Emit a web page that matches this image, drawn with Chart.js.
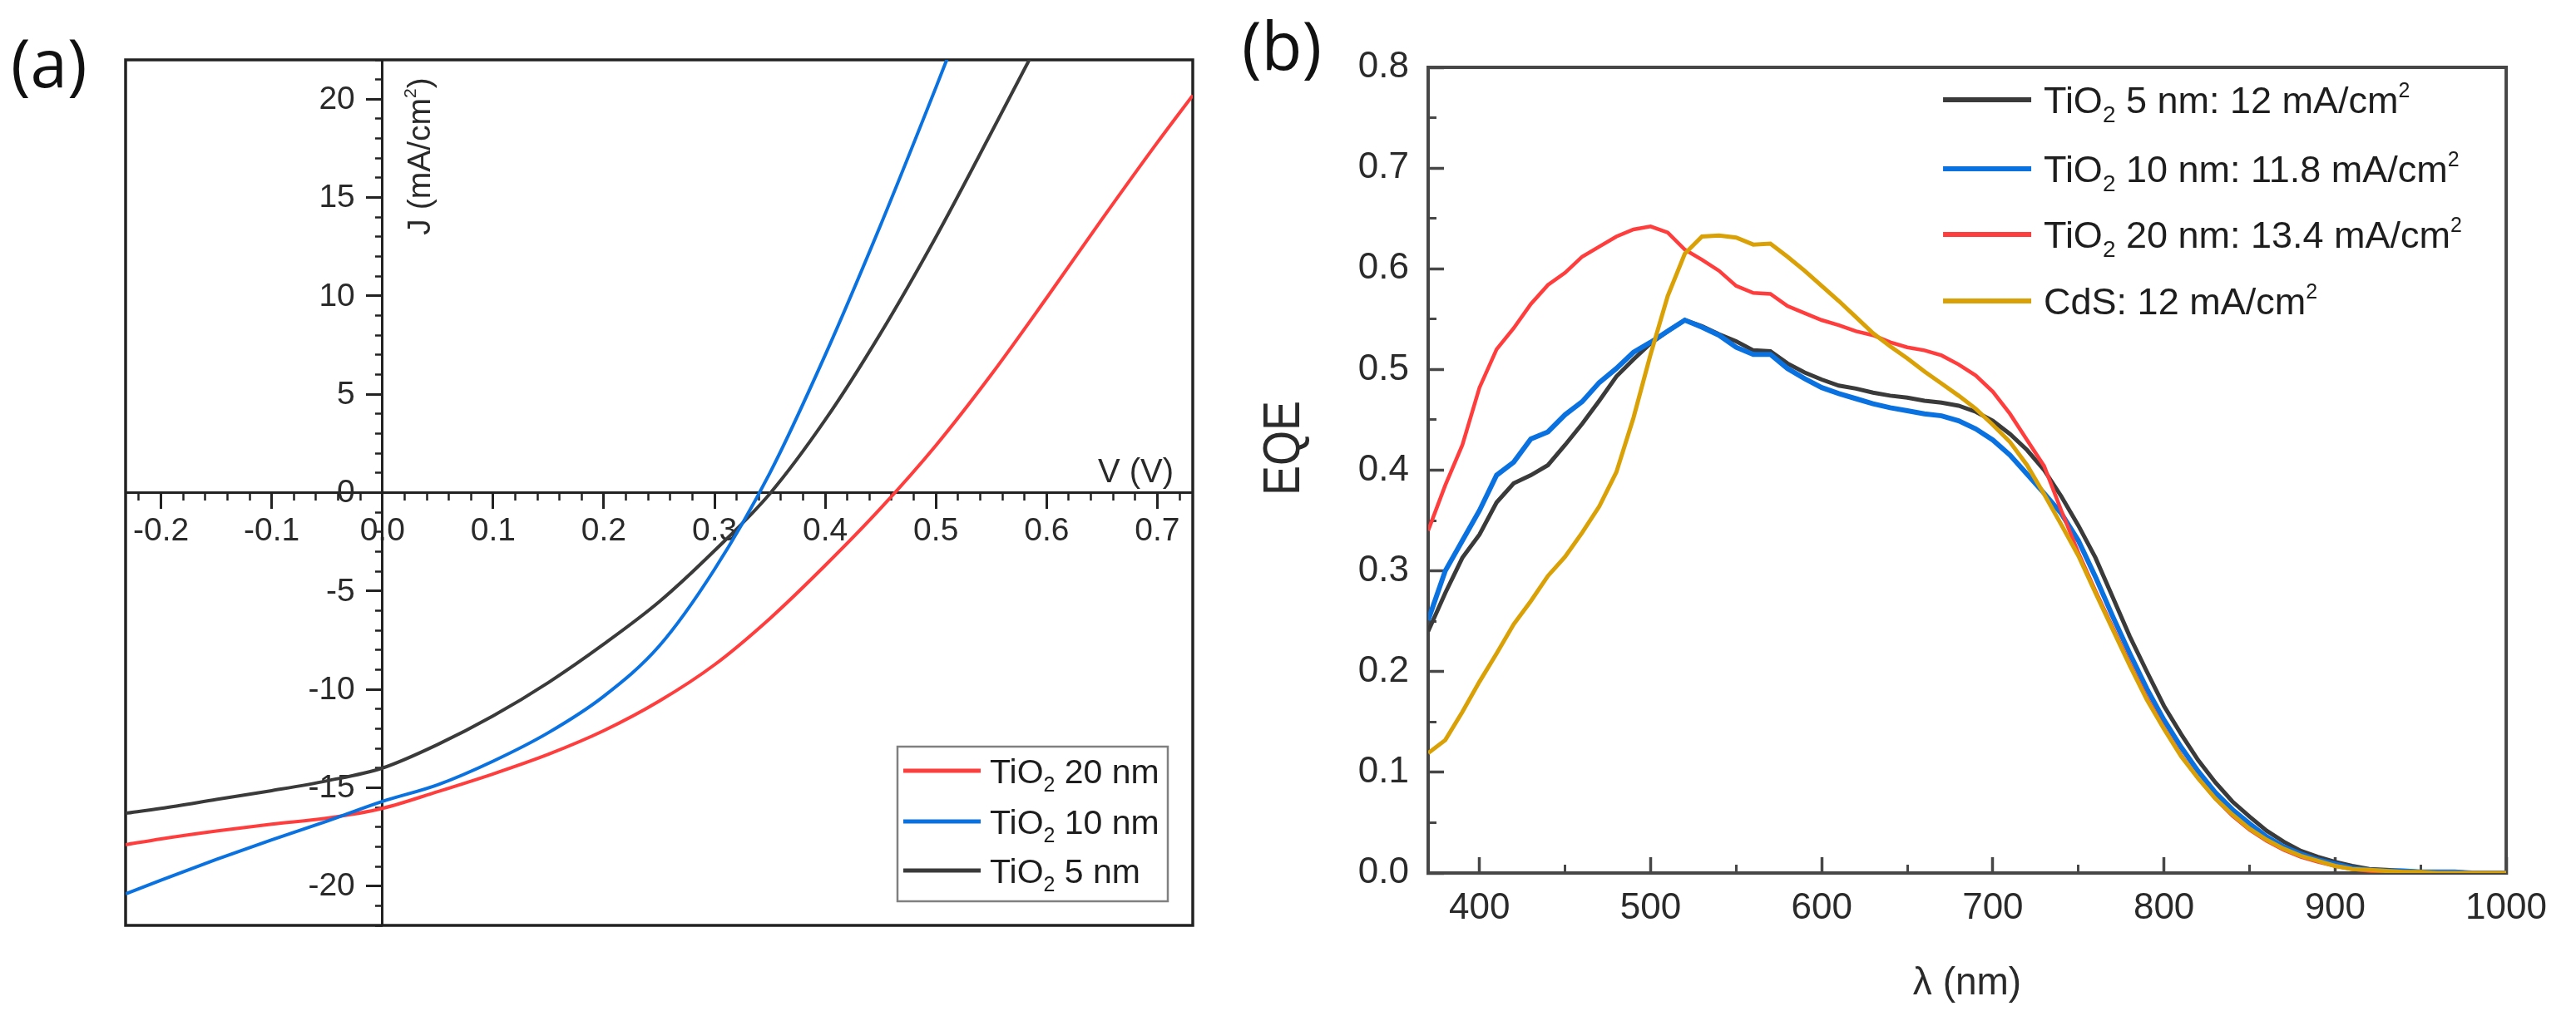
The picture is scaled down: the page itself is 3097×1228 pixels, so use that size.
<!DOCTYPE html>
<html lang="en">
<head>
<meta charset="utf-8">
<title>J–V and EQE of TiO2 / CdS devices</title>
<script src="https://cdn.jsdelivr.net/npm/chart.js@4.4.1/dist/chart.umd.min.js"></script>
<style>
  html, body { margin:0; padding:0; background:#ffffff; }
  #page { position:relative; width:3097px; height:1228px; overflow:hidden; background:#ffffff; }
  #cvA, #cvB { position:absolute; top:0; }
  #cvA { left:0; width:1500px; height:1228px; }
  #cvB { left:1500px; width:1597px; height:1228px; }
  .panel-tag { position:absolute; font-family:"Open Sans", sans-serif; font-size:80px; line-height:80px; color:#111; white-space:nowrap; }
  #tagA { left:13px; top:34px; }
  #tagB { left:1493px; top:13px; }
</style>
</head>
<body>
<div id="page">
  <canvas id="cvA" width="1500" height="1228"></canvas>
  <canvas id="cvB" width="1597" height="1228"></canvas>
  <div class="panel-tag" id="tagA">(a)</div>
  <div class="panel-tag" id="tagB">(b)</div>
</div>
<script>
// ================= Panel (a): J–V curves =================
const voltage    = [-0.232, -0.2, -0.15, -0.1, -0.05, 0, 0.05, 0.1, 0.15, 0.2, 0.25, 0.3, 0.35, 0.4, 0.45, 0.5, 0.55, 0.6, 0.65, 0.7, 0.732];
const jTiO2_20nm = [-17.9, -17.6, -17.2, -16.85, -16.55, -16.05, -15.2, -14.3, -13.3, -12.1, -10.6, -8.75, -6.4, -3.7, -0.8, 2.4, 6.0, 9.9, 13.9, 17.8, 20.2];
const jTiO2_10nm = [-20.4, -19.7, -18.65, -17.65, -16.7, -15.7, -14.85, -13.65, -12.2, -10.35, -7.8, -3.9, 1.0, 7.0, 13.6, 20.6, 27.8, null, null, null, null];
const jTiO2_5nm  = [-16.3, -16.05, -15.6, -15.15, -14.65, -14.0, -12.8, -11.35, -9.65, -7.7, -5.55, -2.95, -0.05, 3.7, 8.1, 13.0, 18.3, 23.7, null, null, null];
const jvSeriesLabels = ['TiO₂ 20 nm', 'TiO₂ 10 nm', 'TiO₂ 5 nm'];
const jvAxisTitles   = ['V (V)', 'J (mA/cm²)'];

// ================= Panel (b): EQE spectra =================
const wavelength = [370, 380, 390, 400, 410, 420, 430, 440, 450, 460, 470, 480, 490, 500, 510, 520, 530, 540, 550, 560,
                    570, 580, 590, 600, 610, 620, 630, 640, 650, 660, 670, 680, 690, 700, 710, 720, 730, 740, 750, 760,
                    770, 780, 790, 800, 810, 820, 830, 840, 850, 860, 870, 880, 890, 900, 910, 920, 930, 940, 950, 960,
                    970, 980, 990, 1000];
const eqeTiO2_5nm = [0.240, 0.278, 0.313, 0.336, 0.368, 0.387, 0.395, 0.405, 0.425,
                     0.446, 0.469, 0.493, 0.510, 0.526, 0.538, 0.549, 0.543, 0.535, 0.528,
                     0.519, 0.518, 0.506, 0.497, 0.490, 0.484, 0.481, 0.477, 0.474, 0.472,
                     0.469, 0.467, 0.464, 0.458, 0.449, 0.436, 0.420, 0.400, 0.374, 0.345,
                     0.313, 0.274, 0.235, 0.200, 0.166, 0.138, 0.112, 0.090, 0.071, 0.056,
                     0.042, 0.031, 0.022, 0.016, 0.011, 0.007, 0.004, 0.003, 0.002, 0.001,
                     0.001, 0.001, 0.000, 0.000, 0.000];
const eqeTiO2_10nm = [0.251, 0.300, 0.330, 0.360, 0.395, 0.408, 0.431, 0.438, 0.455,
                      0.468, 0.487, 0.501, 0.517, 0.527, 0.538, 0.549, 0.542, 0.534, 0.522,
                      0.515, 0.515, 0.501, 0.491, 0.482, 0.476, 0.471, 0.466, 0.462, 0.459,
                      0.456, 0.454, 0.449, 0.441, 0.430, 0.415, 0.396, 0.377, 0.357, 0.330,
                      0.294, 0.255, 0.218, 0.183, 0.152, 0.125, 0.101, 0.080, 0.063, 0.049,
                      0.036, 0.026, 0.019, 0.013, 0.009, 0.005, 0.003, 0.002, 0.002, 0.001,
                      0.001, 0.001, 0.000, 0.000, 0.000];
const eqeTiO2_20nm = [0.340, 0.385, 0.425, 0.482, 0.520, 0.541, 0.565, 0.584, 0.596,
                      0.612, 0.622, 0.632, 0.639, 0.642, 0.636, 0.619, 0.609, 0.598, 0.583,
                      0.576, 0.575, 0.563, 0.556, 0.549, 0.544, 0.538, 0.534, 0.527, 0.522,
                      0.519, 0.514, 0.505, 0.494, 0.478, 0.456, 0.430, 0.404, 0.360, 0.318,
                      0.280, 0.244, 0.208, 0.174, 0.144, 0.117, 0.094, 0.074, 0.057, 0.043,
                      0.032, 0.023, 0.016, 0.011, 0.007, 0.004, 0.002, 0.001, 0.001, 0.000,
                      0.000, 0.000, 0.000, 0.000, 0.000];
const eqeCdS = [0.119, 0.132, 0.160, 0.190, 0.218, 0.247, 0.270, 0.295, 0.314,
                0.338, 0.364, 0.398, 0.452, 0.515, 0.573, 0.615, 0.632, 0.633, 0.631,
                0.624, 0.625, 0.612, 0.598, 0.583, 0.568, 0.552, 0.536, 0.523, 0.511,
                0.498, 0.486, 0.474, 0.461, 0.445, 0.428, 0.405, 0.376, 0.346, 0.315,
                0.278, 0.242, 0.206, 0.172, 0.143, 0.116, 0.094, 0.074, 0.058, 0.044,
                0.033, 0.024, 0.017, 0.012, 0.007, 0.004, 0.003, 0.002, 0.001, 0.001,
                0.000, 0.000, 0.000, 0.000, 0.000];
const eqeSeriesLabels = ['TiO₂ 5 nm: 12 mA/cm²', 'TiO₂ 10 nm: 11.8 mA/cm²', 'TiO₂ 20 nm: 13.4 mA/cm²', 'CdS: 12 mA/cm²'];
const eqeAxisTitles   = ['λ (nm)', 'EQE'];

// ================= styling =================
const FONT = '"Liberation Sans", Arial, Helvetica, sans-serif';
const COLORS = { red: '#ff3d3d', blue: '#0a72e0', black: '#3a3a3a', gold: '#d9a106' };
const AXA = '#222222';
const AXB = '#474747';
const TXT = '#2a2a2a';

function xy(xs, ys) { return xs.map((x, i) => ({ x: x, y: ys[i] })); }

// text with real sub/superscript "2" characters rendered smaller and shifted
function drawRich(ctx, text, x, y, size, align) {
  const segs = [];
  for (const ch of text) {
    let kind = 'n', c = ch;
    if (ch === '₂') { kind = 'sub'; c = '2'; }
    else if (ch === '²') { kind = 'sup'; c = '2'; }
    const last = segs[segs.length - 1];
    if (last && last.kind === kind) last.t += c; else segs.push({ kind: kind, t: c });
  }
  const fontOf = k => (k === 'n' ? size : Math.round(size * (k === 'sub' ? 0.62 : 0.55))) + 'px ' + FONT;
  let total = 0;
  for (const s of segs) { ctx.font = fontOf(s.kind); s.w = ctx.measureText(s.t).width; total += s.w; }
  let cx = align === 'right' ? x - total : (align === 'center' ? x - total / 2 : x);
  ctx.textAlign = 'left';
  ctx.textBaseline = 'alphabetic';
  for (const s of segs) {
    ctx.font = fontOf(s.kind);
    const dy = s.kind === 'sub' ? size * 0.24 : (s.kind === 'sup' ? -size * 0.42 : 0);
    ctx.fillText(s.t, cx, y + dy);
    cx += s.w;
  }
}

function framePlugin(color, width) {
  return {
    id: 'frame',
    beforeDatasetsDraw(chart) {
      const { ctx, chartArea: a } = chart;
      ctx.save();
      ctx.strokeStyle = color;
      ctx.lineWidth = width;
      ctx.strokeRect(a.left, a.top, a.right - a.left, a.bottom - a.top);
      ctx.restore();
    }
  };
}

// ---------- decorations for panel (a) ----------
const decorA = {
  id: 'decorA',
  // y tick labels of the centred J axis: taken from the library's own ticks
  beforeDatasetsDraw(chart) {
    const { ctx, scales } = chart;
    const ys = scales.y;
    const x0 = scales.x.getPixelForValue(0);
    ctx.save();
    ctx.fillStyle = TXT;
    ctx.font = '39px ' + FONT;
    ctx.textAlign = 'right';
    ctx.textBaseline = 'middle';
    ys.ticks.forEach(t => {
      ctx.fillText(String(t.value), x0 - 33, ys.getPixelForValue(t.value) + 1);
    });
    ctx.restore();
  },
  afterDraw(chart) {
    const { ctx, chartArea: a, scales } = chart;
    const x0 = scales.x.getPixelForValue(0);
    const y0 = scales.y.getPixelForValue(0);
    ctx.save();
    ctx.fillStyle = TXT;
    drawRich(ctx, jvAxisTitles[0], a.right - 23, y0 - 13, 40, 'right');
    ctx.save();
    ctx.translate(x0 + 43, a.top + 116);
    ctx.rotate(-Math.PI / 2);
    drawRich(ctx, jvAxisTitles[1], 0, 14, 39, 'center');
    ctx.restore();

    // legend box (lower right)
    const bw = 325, bh = 186;
    const bx0 = a.right - 30 - bw, by0 = a.bottom - 29 - bh;
    ctx.fillStyle = '#ffffff';
    ctx.fillRect(bx0, by0, bw, bh);
    ctx.strokeStyle = '#808080';
    ctx.lineWidth = 2.5;
    ctx.strokeRect(bx0, by0, bw, bh);
    const rows = [29, 90, 149];
    chart.data.datasets.forEach((ds, i) => {
      const ry = by0 + rows[i];
      ctx.strokeStyle = ds.borderColor;
      ctx.lineWidth = 5;
      ctx.beginPath();
      ctx.moveTo(bx0 + 7, ry);
      ctx.lineTo(bx0 + 100, ry);
      ctx.stroke();
      ctx.fillStyle = '#1e1e1e';
      drawRich(ctx, ds.label, bx0 + 111, ry + 15, 41, 'left');
    });
    ctx.restore();
  }
};

// ---------- decorations for panel (b) ----------
const decorB = {
  id: 'decorB',
  afterDraw(chart) {
    const { ctx, chartArea: a } = chart;
    ctx.save();
    ctx.fillStyle = TXT;
    ctx.font = '46px ' + FONT;
    ctx.textAlign = 'center';
    ctx.textBaseline = 'middle';
    ctx.fillText(eqeAxisTitles[0], (a.left + a.right) / 2, a.bottom + 133);
    ctx.save();
    ctx.translate(a.left - 172, a.top + 458);
    ctx.rotate(-Math.PI / 2);
    ctx.scale(1, 1.16);
    ctx.font = '54px ' + FONT;
    ctx.fillText(eqeAxisTitles[1], 0, 0);
    ctx.restore();

    // legend (upper right, no box)
    const rows = [39, 122, 201, 281];
    chart.data.datasets.forEach((ds, i) => {
      const ry = a.top + rows[i];
      ctx.strokeStyle = ds.borderColor;
      ctx.lineWidth = 6;
      ctx.beginPath();
      ctx.moveTo(a.right - 677, ry);
      ctx.lineTo(a.right - 571, ry);
      ctx.stroke();
      ctx.fillStyle = '#1e1e1e';
      drawRich(ctx, ds.label, a.right - 556, ry + 16, 45, 'left');
    });
    ctx.restore();
  }
};

// ================= chart (a) =================
const tickFontA = { family: FONT, size: 39 };
new Chart(document.getElementById('cvA'), {
  type: 'line',
  data: {
    datasets: [
      { label: jvSeriesLabels[0], data: xy(voltage, jTiO2_20nm), borderColor: COLORS.red, order: 1 },
      { label: jvSeriesLabels[1], data: xy(voltage, jTiO2_10nm), borderColor: COLORS.blue, order: 0 },
      { label: jvSeriesLabels[2], data: xy(voltage, jTiO2_5nm), borderColor: COLORS.black, order: 2 }
    ].map(d => Object.assign(d, {
      xAxisID: 'x', yAxisID: 'y', borderWidth: 4, pointRadius: 0, fill: false,
      cubicInterpolationMode: 'monotone', spanGaps: false
    }))
  },
  options: {
    responsive: false, maintainAspectRatio: false, animation: false, devicePixelRatio: 1, events: [],
    layout: { padding: { left: 151, top: 72, right: 66, bottom: 115 } },
    plugins: { legend: { display: false }, tooltip: { enabled: false }, title: { display: false } },
    scales: {
      x: {
        type: 'linear', axis: 'x', position: { y: 0 }, min: -0.232, max: 0.732, bounds: 'ticks',
        ticks: { stepSize: 0.1, includeBounds: false, autoSkip: false, maxRotation: 0, padding: 5,
                 color: TXT, font: tickFontA, callback: v => Number(v).toFixed(1) },
        grid: { display: true, drawOnChartArea: false, drawTicks: true, tickLength: 18, tickWidth: 3, tickColor: AXA },
        border: { display: true, color: AXA, width: 3 }
      },
      xMinor: {
        type: 'linear', axis: 'x', position: { y: 0 }, min: -0.232, max: 0.732, bounds: 'ticks',
        ticks: { display: false, stepSize: 0.02, includeBounds: false, autoSkip: false },
        grid: { display: true, drawOnChartArea: false, drawTicks: true, tickLength: 9, tickWidth: 2.5, tickColor: AXA },
        border: { display: false }
      },
      y: {
        type: 'linear', axis: 'y', position: { x: 0 }, min: -22, max: 22, bounds: 'ticks',
        ticks: { display: false, stepSize: 5, includeBounds: false, autoSkip: false },
        grid: { display: true, drawOnChartArea: false, drawTicks: true, tickLength: 18, tickWidth: 3, tickColor: AXA },
        border: { display: true, color: AXA, width: 3 }
      },
      yMinor: {
        type: 'linear', axis: 'y', position: { x: 0 }, min: -22, max: 22, bounds: 'ticks',
        ticks: { display: false, stepSize: 1, includeBounds: false, autoSkip: false },
        grid: { display: true, drawOnChartArea: false, drawTicks: true, tickLength: 9, tickWidth: 2.5, tickColor: AXA },
        border: { display: false }
      }
    }
  },
  plugins: [framePlugin(AXA, 3.5), decorA]
});

// ================= chart (b) =================
const tickFontB = { family: FONT, size: 44 };
new Chart(document.getElementById('cvB'), {
  type: 'line',
  data: {
    datasets: [
      { label: eqeSeriesLabels[0], data: xy(wavelength, eqeTiO2_5nm), borderColor: COLORS.black, borderWidth: 5, order: 3 },
      { label: eqeSeriesLabels[1], data: xy(wavelength, eqeTiO2_10nm), borderColor: COLORS.blue, borderWidth: 6, order: 2 },
      { label: eqeSeriesLabels[2], data: xy(wavelength, eqeTiO2_20nm), borderColor: COLORS.red, borderWidth: 4.5, order: 1 },
      { label: eqeSeriesLabels[3], data: xy(wavelength, eqeCdS), borderColor: COLORS.gold, borderWidth: 5, order: 0 }
    ].map(d => Object.assign(d, {
      xAxisID: 'x', yAxisID: 'y', pointRadius: 0, fill: false, tension: 0
    }))
  },
  options: {
    responsive: false, maintainAspectRatio: false, animation: false, devicePixelRatio: 1, events: [],
    layout: { padding: { left: 0, top: 81, right: 64, bottom: 0 } },
    plugins: { legend: { display: false }, tooltip: { enabled: false }, title: { display: false } },
    scales: {
      x: {
        type: 'linear', axis: 'x', position: 'bottom', min: 370, max: 1000, bounds: 'ticks',
        ticks: { stepSize: 100, includeBounds: false, autoSkip: false, maxRotation: 0, padding: 35,
                 color: TXT, font: tickFontB, callback: v => String(v) },
        grid: { display: true, drawOnChartArea: false, drawTicks: true, tickLength: -19, tickWidth: 3.5, tickColor: AXB },
        border: { display: true, color: AXB, width: 4 },
        afterFit(s) { s.height = 178; }
      },
      xMinor: {
        type: 'linear', axis: 'x', position: { y: 0 }, min: 370, max: 1000, bounds: 'ticks',
        ticks: { display: false, stepSize: 50, includeBounds: false, autoSkip: false },
        grid: { display: true, drawOnChartArea: false, drawTicks: true, tickLength: -10, tickWidth: 3, tickColor: AXB },
        border: { display: false }
      },
      y: {
        type: 'linear', axis: 'y', position: 'left', min: 0, max: 0.8, bounds: 'ticks',
        ticks: { stepSize: 0.1, autoSkip: false, padding: 42, color: TXT, font: tickFontB,
                 callback: v => Number(v).toFixed(1) },
        grid: { display: true, drawOnChartArea: false, drawTicks: true, tickLength: -19, tickWidth: 3.5, tickColor: AXB },
        border: { display: true, color: AXB, width: 4 },
        afterFit(s) { s.width = 217; }
      },
      yMinor: {
        type: 'linear', axis: 'y', position: { x: 370 }, min: 0, max: 0.8, bounds: 'ticks',
        ticks: { display: false, stepSize: 0.05, autoSkip: false },
        grid: { display: true, drawOnChartArea: false, drawTicks: true, tickLength: -10, tickWidth: 3, tickColor: AXB },
        border: { display: false }
      }
    }
  },
  plugins: [framePlugin(AXB, 4), decorB]
});
</script>
</body>
</html>
